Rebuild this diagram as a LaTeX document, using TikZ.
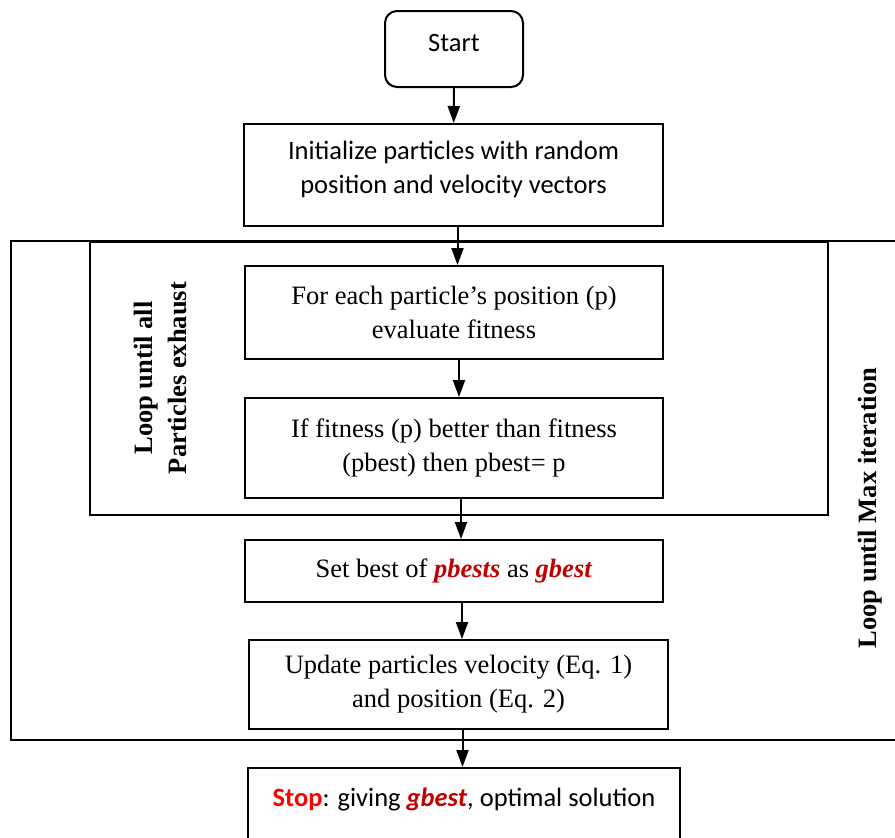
\documentclass[tikz,border=0pt]{standalone}
\usepackage{fontspec}
\setmainfont{Liberation Serif}
\newfontfamily\calibri{Carlito}
\usetikzlibrary{arrows.meta}
\definecolor{bestred}{HTML}{C00000}
\definecolor{stopred}{HTML}{FF0000}
\tikzset{
  stepbox/.style={draw, line width=1pt, align=center, inner sep=2pt,
    font=\fontsize{13.25}{17}\selectfont},
  sansbox/.style={stepbox, font=\fontsize{13.25}{17}\selectfont\calibri},
  arr/.style={-{Triangle[width=6pt,length=8.5pt]}, line width=1pt},
  looplabel/.style={rotate=90, align=center,
    font=\fontsize{13.25}{17}\selectfont\bfseries},
}
\newcommand{\bestword}[1]{\textcolor{bestred}{\textbf{\textit{#1}}}}

\begin{document}
\begin{tikzpicture}[x=0.5pt, y=-0.5pt]
    \useasboundingbox (0,0) rectangle (895,837);
    \clip (0,0) rectangle (895,837);

    % the two loops
    \draw[line width=1pt] (11,241) rectangle (905,740);
    \draw[line width=1pt] (90,242) rectangle (828,515);
    \node[looplabel] (innerloop) at (160,378) {Loop until all\\Particles exhaust};
    \node[looplabel] (outerloop) at (870,508) {Loop until Max iteration};

    % the steps
    \node[sansbox, rounded corners=6pt, minimum width=69pt, minimum height=38pt, text depth=6pt] (start) at (454,49) {Start};
    \node[sansbox, minimum width=209.5pt, minimum height=51pt, text depth=8pt] (init) at (453.5,175)
        {Initialize particles with random\\position and velocity vectors};
    \node[stepbox, minimum width=209pt, minimum height=46.5pt] (fitness) at (454,312.5)
        {For each particle’s position (p)\\evaluate fitness};
    \node[stepbox, minimum width=209pt, minimum height=50pt] (pbest) at (454,448)
        {If fitness (p) better than fitness\\(pbest) then pbest= p};
    \node[stepbox, minimum width=209pt, minimum height=31pt] (gbest) at (454,571)
        {Set best of \bestword{pbests} as \bestword{gbest}};
    \node[stepbox, minimum width=209.5pt, minimum height=44.5pt] (update) at (458.5,684.5)
        {Update particles velocity (Eq. 1)\\and position (Eq. 2)};
    \node[sansbox, minimum width=216pt, minimum height=46pt] (stop) at (464,814)
        {\textcolor{stopred}{\textbf{Stop}}: giving \bestword{gbest}, optimal solution\\\mbox{}};

    % the arrows
    \draw[arr] (start) -- (init);
    \draw[arr] ([xshift=2pt]init.south) -- ([xshift=2pt]init.south |- fitness.north);
    \draw[arr] ([xshift=2.5pt]fitness.south) -- ([xshift=2.5pt]fitness.south |- pbest.north);
    \draw[arr] ([xshift=3.5pt]pbest.south) -- ([xshift=3.5pt]pbest.south |- gbest.north);
    \draw[arr] ([xshift=4pt]gbest.south) -- ([xshift=4pt]gbest.south |- update.north);
    \draw[arr] ([xshift=2pt]update.south) -- ([xshift=2pt]update.south |- stop.north);
\end{tikzpicture}
\end{document}
